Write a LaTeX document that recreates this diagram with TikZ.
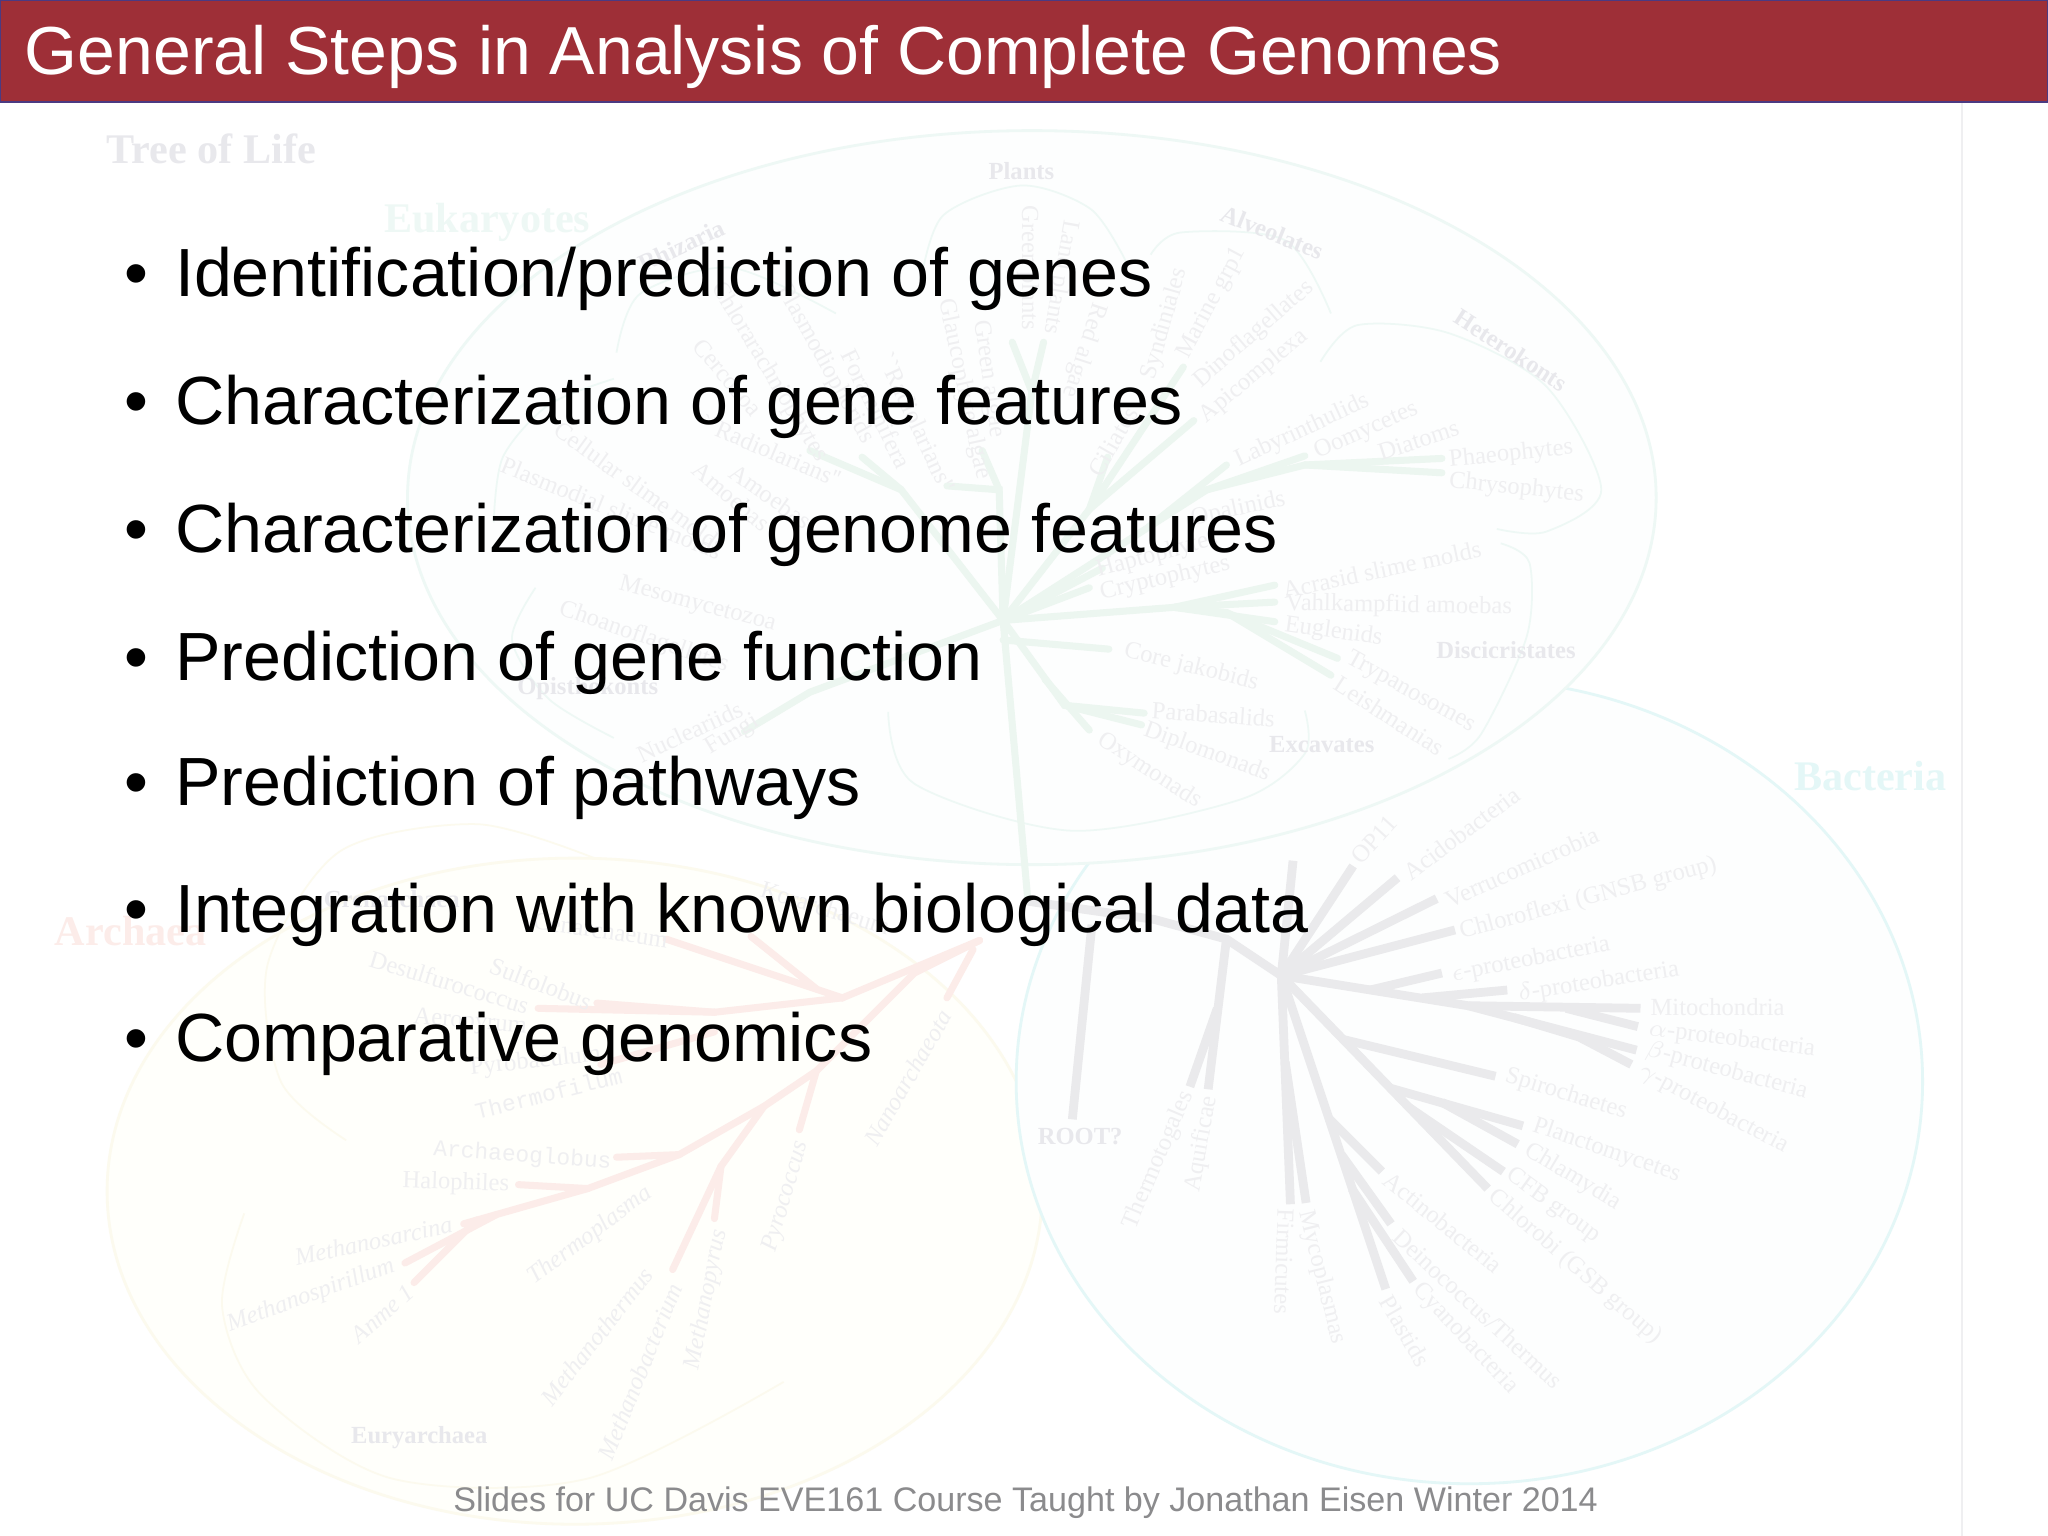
\documentclass[tikz,border=0pt]{standalone}
\usepackage{fontspec}
\setmainfont{Liberation Sans}
\newfontfamily\bgserif{Liberation Serif}
\newfontfamily\bgmono{Liberation Mono}
\definecolor{barred}{HTML}{9E2F37}
\definecolor{barline}{HTML}{4B3A82}
\definecolor{footgray}{HTML}{8B8B8D}
\definecolor{eukline}{HTML}{EEF8F5}
\definecolor{eukfill}{HTML}{FDFEFE}
\definecolor{bacline}{HTML}{E4F7F7}
\definecolor{bacfill}{HTML}{FDFEFE}
\definecolor{arcline}{HTML}{FCFAEE}
\definecolor{arcfill}{HTML}{FFFFFB}
\definecolor{greentree}{HTML}{ECF6F0}
\definecolor{redtree}{HTML}{FCECE9}
\definecolor{graytree}{HTML}{EAEAEC}
\definecolor{labgray}{HTML}{EFEFF1}
\definecolor{headgray}{HTML}{E8E8EC}
\tikzset{
  slidebar/.style={draw=barline,fill=barred,line width=0.5pt},
  titletext/.style={anchor=base west,inner sep=0pt,text=white,font=\fontsize{19.34}{24}\selectfont},
  itemtext/.style={anchor=base west,inner sep=0pt,text=black,font=\fontsize{19.4}{24}\selectfont},
  bulletdot/.style={anchor=base west,inner sep=0pt,text=black,font=\fontsize{19.4}{24}\selectfont},
  foottext/.style={anchor=base west,inner sep=0pt,text=footgray,font=\fontsize{9.7}{12}\selectfont},
  lab/.style={inner sep=0pt,text=labgray,font=\bgserif\fontsize{7}{8}\selectfont},
  itlab/.style={inner sep=0pt,text=labgray,font=\bgserif\itshape\fontsize{7}{8}\selectfont},
  monolab/.style={inner sep=0pt,text=labgray,font=\bgmono\fontsize{6.5}{8}\selectfont},
  headlab/.style={inner sep=0pt,text=headgray,font=\bgserif\bfseries\fontsize{7}{8}\selectfont},
  biglab/.style={inner sep=0pt,font=\bgserif\bfseries\fontsize{12}{14}\selectfont},
  groupring/.style={line width=0.8pt},
  grouparc/.style={line width=0.5pt,smooth},
  greenbranch/.style={draw=greentree,line width=2pt,line cap=round},
  redbranch/.style={draw=redtree,line width=2pt,line cap=round},
  graybranch/.style={draw=graytree,line width=2.5pt},
}
\begin{document}
\begin{tikzpicture}[x=0.013061cm,y=-0.013061cm]
  \useasboundingbox (0,0) rectangle (1568,1176);
  \fill[white] (0,0) rectangle (1568,1176);
  \draw[line width=0.4pt,draw=labgray] (1502,79) -- (1502,1176);

  % the three domains
  \begin{scope}
    \clip (0,79) rectangle (1568,1176);
    \draw[groupring,draw=arcline,fill=arcfill] (440,912) ellipse [x radius=358,y radius=255];
    \draw[groupring,draw=bacline,fill=bacfill] (1125,828) ellipse [x radius=347,y radius=308];
    \draw[groupring,draw=eukline,fill=eukfill] (790,381) ellipse [x radius=478,y radius=281];
  \end{scope}

  % group arcs
  \draw[grouparc,draw=eukline] plot coordinates {(705,215) (722,165) (782,142) (835,160) (862,200)};
  \draw[grouparc,draw=eukline] plot coordinates {(881,195) (904,178) (984,184) (1019,240)};
  \draw[grouparc,draw=eukline] plot coordinates {(1011,277) (1039,249) (1109,255) (1184,296) (1226,375) (1184,407) (1146,405)};
  \draw[grouparc,draw=eukline] plot coordinates {(1149,416) (1171,431) (1169,487) (1134,562) (1109,581)};
  \draw[grouparc,draw=eukline] plot coordinates {(680,545) (700,600) (820,636) (950,612) (999,577) (999,544)};
  \draw[grouparc,draw=eukline] plot coordinates {(472,270) (490,225) (560,205) (640,240)};
  \draw[grouparc,draw=eukline] plot coordinates {(378,400) (385,350) (420,310) (470,290)};
  \draw[grouparc,draw=eukline] plot coordinates {(410,450) (392,490) (420,535) (470,565)};
  \draw[grouparc,draw=arcline] plot coordinates {(455,657) (365,631) (260,652) (205,738) (215,828) (265,873)};
  \draw[grouparc,draw=arcline] plot coordinates {(187,929) (170,1000) (200,1068) (300,1132) (450,1132) (600,1058)};

  % eukaryote branches
  \draw[greenbranch] (787,690) -- (768,475) -- (924,375) -- (999,356) -- (1104,351);
  \draw[greenbranch] (999,356) -- (1104,362);
  \draw[greenbranch] (924,375) -- (999,349);
  \draw[greenbranch] (880,403) -- (939,356);
  \draw[greenbranch] (768,475) -- (899,465) -- (976,461);
  \draw[greenbranch] (899,465) -- (976,448);
  \draw[greenbranch] (899,465) -- (976,476);
  \draw[greenbranch] (899,465) -- (939,469) -- (1024,504);
  \draw[greenbranch] (939,469) -- (1019,517);
  \draw[greenbranch] (768,490) -- (849,497);
  \draw[greenbranch] (768,475) -- (815,540) -- (876,546);
  \draw[greenbranch] (815,540) -- (874,555);
  \draw[greenbranch] (800,520) -- (834,559);
  \draw[greenbranch] (768,475) -- (844,435);
  \draw[greenbranch] (768,475) -- (834,450);
  \draw[greenbranch] (768,475) -- (834,390) -- (906,281);
  \draw[greenbranch] (834,390) -- (914,322);
  \draw[greenbranch] (834,390) -- (848,350);
  \draw[greenbranch] (768,475) -- (790,300) -- (799,262);
  \draw[greenbranch] (790,300) -- (775,262);
  \draw[greenbranch] (768,475) -- (765,375) -- (725,372);
  \draw[greenbranch] (765,375) -- (752,345);
  \draw[greenbranch] (768,475) -- (690,375) -- (620,345);
  \draw[greenbranch] (690,375) -- (660,350);
  \draw[greenbranch] (768,475) -- (620,530) -- (570,560);

  % archaea branches
  \draw[redbranch] (745,727) -- (725,764);
  \draw[redbranch] (750,720) -- (645,764) -- (510,719);
  \draw[redbranch] (625,757) -- (575,717);
  \draw[redbranch] (645,764) -- (547,775);
  \draw[redbranch] (547,775) -- (457,768);
  \draw[redbranch] (547,775) -- (412,772);
  \draw[redbranch] (547,790) -- (460,815);
  \draw[redbranch] (750,720) -- (700,745) -- (625,820) -- (585,847) -- (520,884) -- (450,910) -- (355,937);
  \draw[redbranch] (625,820) -- (612,865);
  \draw[redbranch] (520,884) -- (472,886);
  \draw[redbranch] (450,910) -- (397,907);
  \draw[redbranch] (380,930) -- (310,967);
  \draw[redbranch] (365,934) -- (317,982);
  \draw[redbranch] (585,847) -- (552,893) -- (515,972);
  \draw[redbranch] (552,893) -- (547,933);

  % bacteria branches
  \draw[graybranch] (787,690) -- (884,704) -- (939,719) -- (981,747) -- (990,659);
  \draw[graybranch] (981,747) -- (1036,663);
  \draw[graybranch] (981,747) -- (1070,672);
  \draw[graybranch] (981,747) -- (1100,688);
  \draw[graybranch] (981,747) -- (1114,712);
  \draw[graybranch] (1049,758) -- (1104,745);
  \draw[graybranch] (1089,764) -- (1154,758);
  \draw[graybranch] (981,747) -- (1124,770) -- (1256,772);
  \draw[graybranch] (1199,772) -- (1254,786);
  \draw[graybranch] (1124,770) -- (1253,804);
  \draw[graybranch] (1159,779) -- (1209,794) -- (1249,815);
  \draw[graybranch] (1029,796) -- (1145,824);
  \draw[graybranch] (981,747) -- (1139,910);
  \draw[graybranch] (1079,848) -- (1151,897);
  \draw[graybranch] (1064,833) -- (1166,862);
  \draw[graybranch] (1104,844) -- (1162,876);
  \draw[graybranch] (981,747) -- (988,922);
  \draw[graybranch] (984,813) -- (1000,921);
  \draw[graybranch] (981,747) -- (1061,987);
  \draw[graybranch] (1035,910) -- (1082,981);
  \draw[graybranch] (1027,884) -- (1065,937);
  \draw[graybranch] (1017,856) -- (1058,897);
  \draw[graybranch] (939,719) -- (925,834);
  \draw[graybranch] (932,772) -- (911,832);
  \draw[graybranch] (836,708) -- (821,857);

  % big headings
  \node[biglab,text=headgray] (treelife) at (162,114) {Tree of Life};
  \node[biglab,text=eukline] (eukaryotes) at (373,170) {Eukaryotes};
  \node[biglab,text=bacline] (bacteria) at (1432,594) {Bacteria};
  \node[biglab,text=redtree] (archaea) at (100,713) {Archaea};

  % eukaryote labels
  \node[headlab] (plants) at (782,131) {Plants};
  \node[headlab,rotate=-22] (alveolates) at (974,178) {Alveolates};
  \node[headlab,rotate=-33] (heterokonts) at (1157,268) {Heterokonts};
  \node[headlab,rotate=25] (rhizaria) at (522,188) {Rhizaria};
  \node[headlab] (discicristates) at (1153,498) {Discicristates};
  \node[headlab] (excavates) at (1012,570) {Excavates};
  \node[headlab] (opisthokonts) at (450,527) {Opisthokonts};
  \node[lab,rotate=-50] (cercozoa) at (557,289) {Cercozoa};
  \node[lab,rotate=-59] (chlorarach) at (589,285) {Chlorarachniophytes};
  \node[lab,rotate=-61] (plasmodioph) at (632,279) {Plasmodiophorids};
  \node[lab,rotate=-64] (foraminifera) at (671,313) {Foraminifera};
  \node[lab,rotate=-65] (radioa) at (702,323) {``Radiolarians''};
  \node[lab,rotate=-23] (radiob) at (590,345) {``Radiolarians''};
  \node[lab,rotate=-40] (amoeba) at (560,380) {Amoebas};
  \node[lab,rotate=-35] (amoebb) at (590,380) {Amoebas};
  \node[lab,rotate=-36] (cellslime) at (490,373) {Cellular slime molds};
  \node[lab,rotate=-22] (plasslime) at (468,389) {Plasmodial slime molds};
  \node[lab,rotate=-15] (mesomyc) at (534,463) {Mesomycetozoa};
  \node[lab,rotate=-19] (choano) at (493,488) {Choanoflagellates};
  \node[lab,rotate=25] (nuclear) at (528,560) {Nucleariids};
  \node[lab,rotate=31] (fungi) at (561,563) {Fungi};
  \node[lab,rotate=-78] (glauco) at (738,298) {Glaucophyte algae};
  \node[lab,rotate=-82] (greenalg) at (757,290) {Green algae};
  \node[lab,rotate=-90] (greenpl) at (787,205) {Green plants};
  \node[lab,rotate=-100] (landpl) at (812,212) {Land plants};
  \node[lab,rotate=-108] (redalg) at (830,268) {Red algae};
  \node[lab,rotate=62] (marine) at (928,232) {Marine grp1};
  \node[lab,rotate=74] (syndin) at (892,248) {Syndiniales};
  \node[lab,rotate=41] (dinofl) at (960,256) {Dinoflagellates};
  \node[lab,rotate=40] (apicom) at (960,288) {Apicomplexa};
  \node[lab,rotate=60] (ciliates) at (852,338) {Ciliates};
  \node[lab,rotate=25] (labyrin) at (997,330) {Labyrinthulids};
  \node[lab,rotate=24] (oomyc) at (1046,330) {Oomycetes};
  \node[lab,rotate=18] (diatoms) at (1086,337) {Diatoms};
  \node[lab,rotate=6] (phaeo) at (1157,348) {Phaeophytes};
  \node[lab,rotate=-6] (chryso) at (1161,374) {Chrysophytes};
  \node[lab,rotate=12] (opalin) at (948,390) {Opalinids};
  \node[lab,rotate=15] (hapto) at (886,425) {Haptophytes};
  \node[lab,rotate=13] (crypto) at (892,443) {Cryptophytes};
  \node[lab,rotate=12] (acrasid) at (1058,436) {Acrasid slime molds};
  \node[lab,rotate=-1] (vahlk) at (1071,464) {Vahlkampfiid amoebas};
  \node[lab,rotate=-8] (euglen) at (1021,484) {Euglenids};
  \node[lab,rotate=-29] (trypano) at (1080,530) {Trypanosomes};
  \node[lab,rotate=-33] (leishm) at (1064,548) {Leishmanias};
  \node[lab,rotate=-14] (corejak) at (912,511) {Core jakobids};
  \node[lab,rotate=-4] (paraba) at (929,547) {Parabasalids};
  \node[lab,rotate=-20] (diplom) at (924,576) {Diplomonads};
  \node[lab,rotate=-33] (oxymon) at (880,590) {Oxymonads};

  % archaea labels
  \node[headlab] (crenarch) at (300,688) {Crenarchaea};
  \node[headlab] (euryarch) at (321,1101) {Euryarchaea};
  \node[lab,rotate=-8] (cenarch) at (460,712) {Cenarchaeum};
  \node[lab,rotate=-17] (korarch) at (632,695) {Korarchaeum};
  \node[lab,rotate=-17] (desulfu) at (344,752) {Desulfurococcus};
  \node[lab,rotate=-21] (sulfolo) at (414,753) {Sulfolobus};
  \node[lab,rotate=-5] (aeropy) at (360,783) {Aeropyrum};
  \node[lab,rotate=6] (pyrobac) at (410,813) {Pyrobaculum};
  \node[monolab,rotate=14] (thermofil) at (420,837) {Thermofilum};
  \node[monolab,rotate=-4] (archaeog) at (400,885) {Archaeoglobus};
  \node[lab,rotate=-2] (halophil) at (349,906) {Halophiles};
  \node[itlab,rotate=12] (msarcina) at (286,950) {Methanosarcina};
  \node[itlab,rotate=20] (mspirill) at (238,992) {Methanospirillum};
  \node[itlab,rotate=41] (anme) at (293,1006) {Anme 1};
  \node[itlab,rotate=37] (tplasma) at (452,946) {Thermoplasma};
  \node[itlab,rotate=52] (mthermus) at (457,1023) {Methanothermus};
  \node[itlab,rotate=68] (mbacter) at (490,1050) {Methanobacterium};
  \node[itlab,rotate=79] (mpyrus) at (541,995) {Methanopyrus};
  \node[itlab,rotate=74] (pyrococ) at (602,916) {Pyrococcus};
  \node[itlab,rotate=60] (nanoarch) at (695,825) {Nanoarchaeota};

  % bacteria labels
  \node[headlab] (rootq) at (827,870) {ROOT?};
  \node[lab,rotate=48] (opeleven) at (1052,643) {OP11};
  \node[lab,rotate=37] (acidob) at (1119,638) {Acidobacteria};
  \node[lab,rotate=24] (verruco) at (1165,664) {Verrucomicrobia};
  \node[lab,rotate=15] (chlorofl) at (1216,688) {Chloroflexi (GNSB group)};
  \node[lab,rotate=11] (eproteo) at (1172,735) {$\epsilon$-proteobacteria};
  \node[lab,rotate=9] (dproteo) at (1224,752) {$\delta$-proteobacteria};
  \node[lab] (mitoch) at (1315,771) {Mitochondria};
  \node[lab,rotate=-7] (aproteo) at (1326,796) {$\alpha$-proteobacteria};
  \node[lab,rotate=-15] (bproteo) at (1322,820) {$\beta$-proteobacteria};
  \node[lab,rotate=-28] (gproteo) at (1312,849) {$\gamma$-proteobacteria};
  \node[lab,rotate=-17] (spiroch) at (1199,838) {Spirochaetes};
  \node[lab,rotate=-19] (plancto) at (1230,881) {Planctomycetes};
  \node[lab,rotate=-31] (chlamyd) at (1204,901) {Chlamydia};
  \node[lab,rotate=-36] (cfbgrp) at (1189,923) {CFB group};
  \node[lab,rotate=-41] (chlorob) at (1206,970) {Chlorobi (GSB group)};
  \node[lab,rotate=-39] (actino) at (1105,936) {Actinobacteria};
  \node[lab,rotate=-43] (deino) at (1132,1002) {Deinococcus/Thermus};
  \node[lab,rotate=-47] (cyano) at (1122,1025) {Cyanobacteria};
  \node[lab,rotate=-60] (plastids) at (1076,1019) {Plastids};
  \node[lab,rotate=-76] (mycopl) at (1012,978) {Mycoplasmas};
  \node[lab,rotate=-92] (firmic) at (983,966) {Firmicutes};
  \node[lab,rotate=67] (thermot) at (887,888) {Thermotogales};
  \node[lab,rotate=80] (aquif) at (920,876) {Aquificae};

  % slide text on top
  \draw[slidebar] (0,0) rectangle (1568,78);
  \node[titletext] (title) at (18.5,57) {General Steps in Analysis of Complete Genomes};
  \foreach \y/\t [count=\i] in {227/Identification\slash prediction of genes,
      325/Characterization of gene features,
      423/Characterization of genome features,
      521/Prediction of gene function,
      617/Prediction of pathways,
      714/Integration with known biological data,
      813/Comparative genomics}{
    \node[bulletdot] (dot\i) at (95,\y) {•};
    \node[itemtext] (item\i) at (133.5,\y) {\t};
  }
  \node[foottext] (footer) at (346.5,1157) {Slides for UC Davis EVE161 Course Taught by Jonathan Eisen Winter 2014};
\end{tikzpicture}
\end{document}
